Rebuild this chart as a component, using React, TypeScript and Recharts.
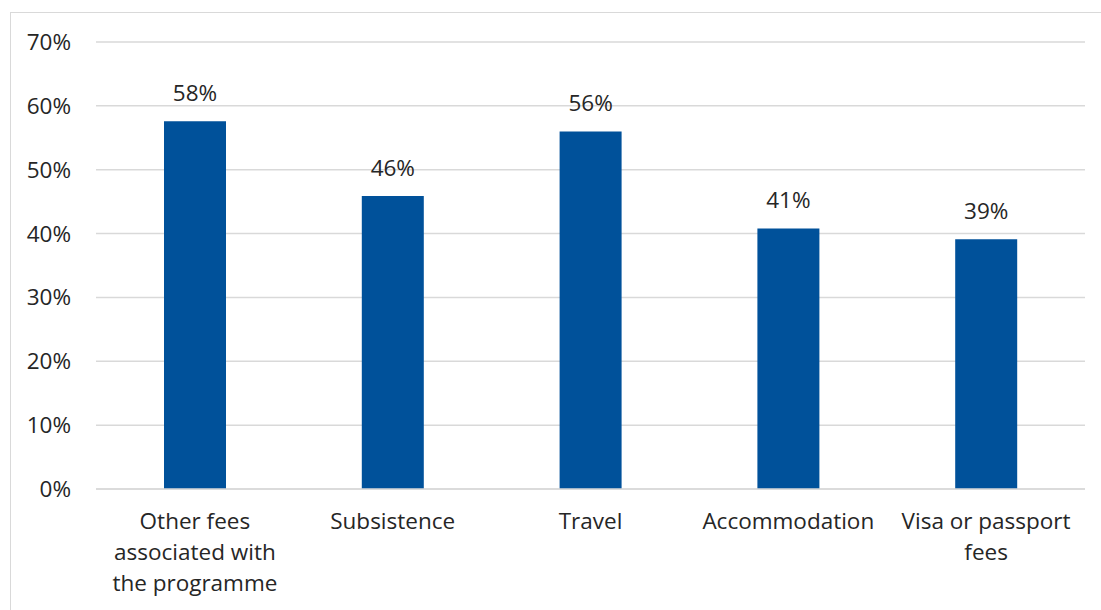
import React from 'react';
import { BarChart, Bar, XAxis, YAxis, CartesianGrid, LabelList } from 'recharts';

const categories = [
  'Other fees associated with the programme',
  'Subsistence',
  'Travel',
  'Accommodation',
  'Visa or passport fees',
];
const categoryLines: string[][] = [
  ['Other fees', 'associated with', 'the programme'],
  ['Subsistence'],
  ['Travel'],
  ['Accommodation'],
  ['Visa or passport', 'fees'],
];
const shares = [57.6, 45.9, 56.0, 40.8, 39.1];
const yTicks = [0, 10, 20, 30, 40, 50, 60, 70];

const data = categories.map((c, i) => ({ name: c, value: shares[i], idx: i }));

const FONT = '"Open Sans", sans-serif';
const TEXT = '#262626';
const FS = 22.5;

const XTick = (props: any) => {
  const { x, y, payload } = props;
  const lines = categoryLines[payload.index] ?? [payload.value];
  return (
    <g>
      {lines.map((l, i) => (
        <text key={i} x={x} y={y + 32 + i * 31} textAnchor="middle" fontFamily={FONT} fontSize={FS} fill={TEXT}>
          {l}
        </text>
      ))}
    </g>
  );
};

export default function App() {
  return (
    <div style={{ position: 'absolute', left: 0, top: 0, width: 1101, height: 610, background: '#fff' }}>
      <div style={{ position: 'absolute', left: 10, top: 12, width: 1091, height: 598, borderTop: '1px solid #d9d9d9', borderLeft: '1px solid #d9d9d9' }} />
      <BarChart
        width={1101}
        height={610}
        data={data}
        margin={{ top: 42, right: 16, bottom: 91, left: 0 }}
        style={{ position: 'absolute', left: 0, top: 0 }}
      >
        <CartesianGrid vertical={false} stroke="#d9d9d9" strokeWidth={1.5} />
        <XAxis dataKey="name" height={30} axisLine={{ stroke: '#d9d9d9', strokeWidth: 1.5 }} tickLine={false} tick={<XTick />} interval={0} />
        <YAxis
          domain={[0, 70]}
          ticks={yTicks}
          width={96}
          axisLine={false}
          tickLine={false}
          tickFormatter={(v: number) => `${v}%`}
          tick={{ fontFamily: FONT, fontSize: FS, fill: TEXT, dx: -17 }}
        />
        <Bar dataKey="value" fill="#00519a" barSize={62} isAnimationActive={false}>
          <LabelList
            dataKey="value"
            position="top"
            offset={20}
            formatter={(v: number) => `${Math.round(v)}%`}
            style={{ fontFamily: FONT, fontSize: FS, fill: TEXT }}
          />
        </Bar>
      </BarChart>
    </div>
  );
}
